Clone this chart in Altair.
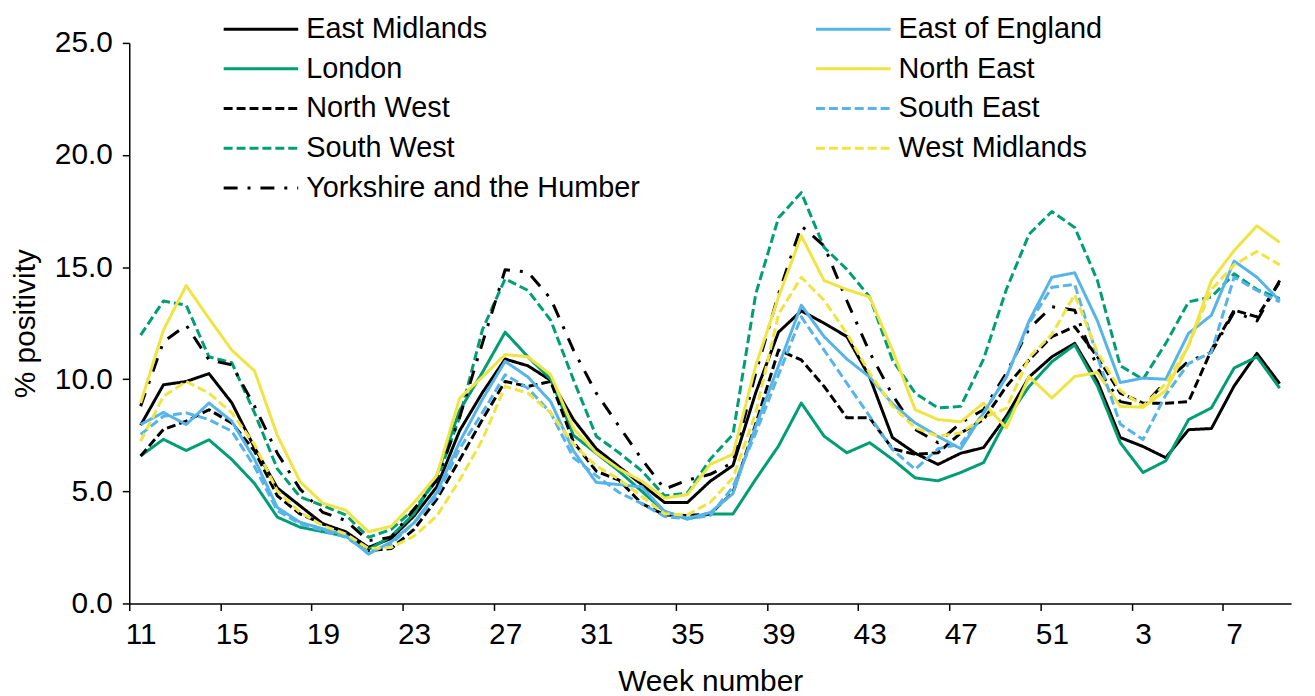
import altair as alt
import pandas as pd

weeks = [11, 12, 13, 14, 15, 16, 17, 18, 19, 20, 21, 22, 23, 24, 25, 26, 27, 28, 29, 30,
         31, 32, 33, 34, 35, 36, 37, 38, 39, 40, 41, 42, 43, 44, 45, 46, 47, 48, 49, 50,
         51, 52, 1, 2, 3, 4, 5, 6, 7, 8, 9]

# legend order (column-wise fill: left column first, then right column)
regions = ["East Midlands", "London", "North West", "South West", "Yorkshire and the Humber",
           "East of England", "North East", "South East", "West Midlands"]

east_midlands = [7.95, 9.75, 9.9, 10.25, 8.95, 6.95, 5.15, 4.35, 3.55, 3.2,
                 2.5, 2.9, 3.9, 5.2, 7.7, 9.4, 10.9, 10.6, 9.95, 8.2,
                 6.9, 6.1, 5.3, 4.5, 4.5, 5.45, 6.15, 9.4, 12.1, 13.05,
                 12.5, 11.9, 10.1, 7.4, 6.7, 6.2, 6.7, 6.95, 8.35, 10.1,
                 11.0, 11.6, 9.9, 7.4, 7.0, 6.5, 7.75, 7.8, 9.7, 11.15,
                 9.8]
east_of_england = [7.98, 8.52, 7.98, 8.94, 8.13, 6.43, 4.28, 3.62, 3.33, 3.05,
                   2.2, 2.75, 3.6, 4.95, 7.2, 9.1, 10.8, 10.1, 9.0, 6.8,
                   5.4, 5.3, 5.2, 4.1, 3.8, 4.05, 4.9, 7.9, 10.6, 13.3,
                   11.9, 10.9, 10.1, 8.9, 8.05, 7.45, 6.9, 8.5, 10.1, 12.6,
                   14.55, 14.75, 12.6, 9.85, 10.05, 10.0, 12.05, 12.85, 15.27, 14.55,
                   13.5]
london = [6.58, 7.32, 6.82, 7.3, 6.42, 5.35, 3.85, 3.4, 3.2, 3.0,
          2.4, 3.0, 4.0, 5.7, 8.6, 10.3, 12.1, 11.0, 10.0, 7.5,
          6.7, 5.9, 5.0, 4.1, 3.77, 3.99, 3.99, 5.54, 7.02, 8.94,
          7.46, 6.72, 7.17, 6.43, 5.6, 5.47, 5.84, 6.28, 8.2, 9.68,
          10.78, 11.53, 9.7, 7.17, 5.84, 6.36, 8.2, 8.72, 10.5, 11.0,
          9.6]
north_east = [8.94, 12.19, 14.18, 12.71, 11.3, 10.37, 7.5, 5.43, 4.47, 4.16,
              3.2, 3.44, 4.5, 5.7, 9.15, 10.1, 11.1, 11.0, 10.2, 7.8,
              6.72, 6.0, 5.45, 4.7, 4.85, 6.2, 6.65, 10.6, 13.67, 16.4,
              14.4, 14.0, 13.67, 11.3, 8.64, 8.2, 8.1, 8.94, 7.83, 10.12,
              9.16, 10.12, 10.3, 8.79, 8.75, 9.5, 11.5, 14.4, 15.74, 16.84,
              16.1]
north_west = [6.58, 7.76, 8.13, 8.64, 8.05, 6.8, 4.8, 3.99, 3.55, 3.15,
              2.35, 2.45, 3.3, 4.65, 6.4, 8.2, 9.9, 9.68, 9.9, 7.2,
              5.9, 5.5, 4.45, 3.95, 3.92, 3.99, 4.95, 8.0, 11.3, 10.86,
              9.68, 8.28, 8.28, 6.9, 6.65, 6.72, 7.6, 8.2, 9.68, 10.86,
              11.9, 12.34, 11.0, 9.38, 8.93, 8.93, 9.0, 11.3, 13.08, 12.78,
              14.33]
south_east = [7.54, 8.35, 8.5, 8.2, 7.68, 6.1, 4.14, 3.55, 3.25, 2.95,
              2.3, 2.65, 3.6, 4.8, 6.9, 8.5, 10.2, 9.6, 8.5, 6.5,
              5.7, 4.95, 4.45, 3.88, 3.77, 3.92, 5.2, 7.6, 10.2, 12.78,
              11.3, 9.82, 8.35, 6.87, 5.98, 6.9, 7.1, 8.5, 10.1, 12.5,
              14.1, 14.23, 11.0, 8.0, 7.31, 9.3, 10.7, 11.2, 14.55, 13.96,
              13.45]
south_west = [11.97, 13.49, 13.3, 11.0, 10.74, 8.5, 6.0, 4.75, 4.36, 3.95,
              2.95, 3.3, 4.2, 5.5, 8.3, 12.2, 14.48, 13.96, 12.63, 9.97,
              7.46, 6.72, 5.91, 4.8, 4.92, 6.43, 7.54, 13.8, 17.2, 18.32,
              15.88, 14.9, 13.67, 10.86, 9.38, 8.72, 8.79, 10.9, 14.0, 16.47,
              17.48, 16.77, 14.4, 10.6, 10.0, 11.6, 13.45, 13.67, 14.7, 14.0,
              13.6]
west_midlands = [7.24, 9.24, 9.9, 9.38, 8.5, 7.09, 5.02, 4.06, 3.47, 3.1,
                 2.45, 2.5, 3.0, 3.9, 5.5, 7.3, 9.68, 9.38, 8.5, 7.1,
                 6.13, 5.54, 4.77, 4.0, 3.95, 4.51, 5.6, 8.5, 12.9, 14.55,
                 13.52, 12.04, 10.27, 8.8, 7.83, 7.46, 7.61, 8.3, 8.7, 10.98,
                 12.0, 13.77, 11.2, 9.5, 8.8, 9.8, 11.5, 14.0, 15.1, 15.7,
                 15.1]
yorkshire = [8.8, 11.67, 12.41, 10.86, 10.64, 8.8, 6.7, 5.1, 4.06, 3.7,
             2.8, 2.95, 4.2, 5.5, 8.3, 11.6, 14.88, 14.78, 13.59, 11.3,
             9.38, 7.9, 6.43, 5.1, 5.5, 5.76, 6.28, 10.27, 13.8, 16.84,
             15.95, 13.5, 11.2, 9.3, 7.76, 7.17, 8.06, 8.64, 10.27, 12.26,
             13.23, 13.08, 10.5, 9.0, 8.8, 9.9, 10.8, 11.2, 13.0, 12.6,
             14.4]

series = {
    "East Midlands": east_midlands,
    "East of England": east_of_england,
    "London": london,
    "North East": north_east,
    "North West": north_west,
    "South East": south_east,
    "South West": south_west,
    "West Midlands": west_midlands,
    "Yorkshire and the Humber": yorkshire,
}

colors = ["#000000", "#009E73", "#000000", "#009E73", "#000000",
          "#56B4E9", "#F0E442", "#56B4E9", "#F0E442"]
dashes = [[1, 0], [1, 0], [9, 4], [9, 4], [14, 10, 3, 10],
          [1, 0], [1, 0], [9, 4], [9, 4]]

y_ticks = [0, 5, 10, 15, 20, 25]

rows = []
for name in regions:
    for i, v in enumerate(series[name]):
        rows.append({"region": name, "idx": i, "week": weeks[i], "value": v})
df = pd.DataFrame(rows)

n = len(weeks)
label_idx = list(range(0, n, 4))
tick_idx = [i - 0.5 for i in label_idx]
label_expr = "[" + ",".join(str(w) for w in weeks) + "][datum.value]"

FONT = "Liberation Sans"
AX_FS = 30
LEG_FS = 29

x_scale = alt.Scale(domain=[-0.5, n - 0.5], nice=False, zero=False)
y_scale = alt.Scale(domain=[0, 25], nice=False)

y_axis = alt.Axis(values=y_ticks, format=".1f", tickSize=7, tickColor="#000000",
                  tickWidth=1.5, domainColor="#000000", domainWidth=1.5,
                  grid=False, labelPadding=10, title="% positivity",
                  titlePadding=14)

legend = alt.Legend(
    title=None, orient="none", legendX=88, legendY=-28.5, columns=2,
    columnPadding=170, rowPadding=10, padding=0,
    symbolType="M-1,0H9", symbolSize=225, symbolStrokeWidth=3,
    labelFontSize=LEG_FS, labelFont=FONT, labelColor="#000000", labelOffset=61,
    labelLimit=700,
)

lines = alt.Chart(df).mark_line(strokeWidth=3, strokeJoin="round").encode(
    x=alt.X("idx:Q", scale=x_scale,
            axis=alt.Axis(orient="bottom", values=label_idx, labelExpr=label_expr,
                          ticks=False, tickSize=0, labelPadding=16, domain=True,
                          domainColor="#000000", domainWidth=1.5, grid=False,
                          title="Week number", titlePadding=18)),
    y=alt.Y("value:Q", scale=y_scale, axis=y_axis),
    color=alt.Color("region:N", scale=alt.Scale(domain=regions, range=colors), legend=legend),
    strokeDash=alt.StrokeDash("region:N", scale=alt.Scale(domain=regions, range=dashes),
                              legend=legend),
)

ticks_layer = alt.Chart(df).mark_line(opacity=0).encode(
    x=alt.X("idx:Q", scale=x_scale,
            axis=alt.Axis(orient="bottom", values=tick_idx, labels=False, ticks=True,
                          tickSize=7, tickColor="#000000", tickWidth=1.5, domain=False,
                          grid=False, title=None)),
    y=alt.Y("value:Q", scale=y_scale, axis=y_axis),
    detail="region:N",
)

chart = alt.layer(lines, ticks_layer).resolve_axis(x="independent").properties(
    width=1169, height=564,
    autosize=alt.AutoSizeParams(type="none"),
    padding={"left": 122, "top": 33, "right": 16, "bottom": 91},
).configure_view(stroke=None).configure_axis(
    labelFont=FONT, titleFont=FONT, labelFontSize=AX_FS, titleFontSize=AX_FS,
    labelColor="#000000", titleColor="#000000", titleFontWeight="normal",
).configure_legend(labelFont=FONT)

chart.save("out.html", embed_options={"renderer": "svg", "actions": False})
